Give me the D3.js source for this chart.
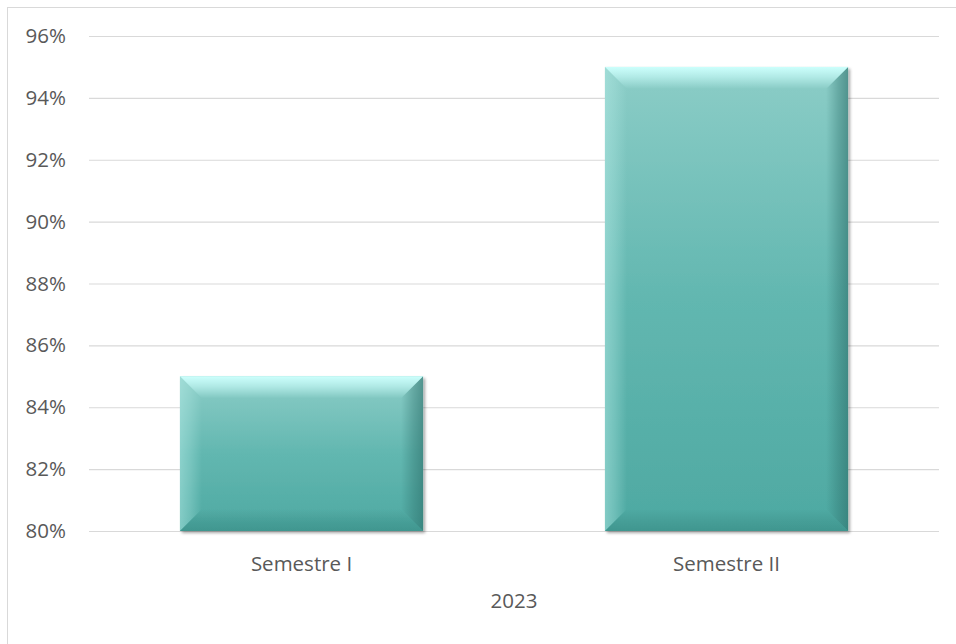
<!DOCTYPE html>
<html>
<head>
<meta charset="utf-8">
<script src="https://cdn.jsdelivr.net/npm/d3@7"></script>
<style>
  body { margin: 0; background: #fff; }
  text { font-family: 'Open Sans', 'Noto Sans', sans-serif; }
</style>
</head>
<body>
<div id="chart-area"></div>
<script>
// data
var categories = ['Semestre I', 'Semestre II']
var values = [0.85, 0.95]
var yTicks = [0.80, 0.82, 0.84, 0.86, 0.88, 0.90, 0.92, 0.94, 0.96]
var yearLabel = '2023'

var margin = {left: 89, right: 17, top: 36, bottom: 113}
var width = 956 - margin.left - margin.right
var height = 644 - margin.top - margin.bottom

var svg = d3.select('#chart-area')
  .append('svg')
  .attr('width', 956)
  .attr('height', 644)

// outer frame (only left and top edges fall inside the page)
svg.append('rect')
  .attr('x', 7.5)
  .attr('y', 7.5)
  .attr('width', 980)
  .attr('height', 680)
  .attr('fill', 'none')
  .attr('stroke', '#d9d9d9')
  .attr('stroke-width', 1)

var defs = svg.append('defs')

// bar body gradient
var body = defs.append('linearGradient')
  .attr('id', 'barBody')
  .attr('x1', 0).attr('y1', 0).attr('x2', 0).attr('y2', 1)
body.append('stop').attr('offset', '0%').attr('stop-color', '#8ccdc7')
body.append('stop').attr('offset', '50%').attr('stop-color', '#62b7b0')
body.append('stop').attr('offset', '100%').attr('stop-color', '#4ea9a2')

// bevel gradients, edge -> inner
function bevelGrad (id, x1, y1, x2, y2, color, op) {
  var gr = defs.append('linearGradient')
    .attr('id', id)
    .attr('x1', x1).attr('y1', y1).attr('x2', x2).attr('y2', y2)
  gr.append('stop').attr('offset', '0%').attr('stop-color', color).attr('stop-opacity', op)
  gr.append('stop').attr('offset', '45%').attr('stop-color', color).attr('stop-opacity', op * 0.6)
  gr.append('stop').attr('offset', '100%').attr('stop-color', color).attr('stop-opacity', 0)
}
bevelGrad('bevTop', 0, 0, 0, 1, '#ccfffc', 1)
bevelGrad('bevLeft', 0, 0, 1, 0, '#b5ece7', 0.5)
bevelGrad('bevRight', 1, 0, 0, 0, '#2c6f6a', 0.6)
bevelGrad('bevBottom', 0, 1, 0, 0, '#2f7f78', 0.45)

var shadow = defs.append('filter')
  .attr('id', 'barShadow')
  .attr('x', '-5%').attr('y', '-5%').attr('width', '115%').attr('height', '115%')
shadow.append('feDropShadow')
  .attr('dx', 2).attr('dy', 2)
  .attr('stdDeviation', 1.5)
  .attr('flood-color', '#000')
  .attr('flood-opacity', 0.35)

var g = svg.append('g')
  .attr('transform', 'translate(' + margin.left + ', ' + margin.top + ')')

// scales
var x = d3.scaleBand()
  .domain(categories)
  .range([0, width])
  .paddingInner(0.428)
  .paddingOuter(0.214)

var y = d3.scaleLinear()
  .domain([0.80, 0.96])
  .range([height, 0])

// y axis with gridlines
var yAxisCall = d3.axisLeft(y)
  .tickValues(yTicks)
  .tickSize(-width)
  .tickPadding(23)
  .tickFormat(d3.format('.0%'))

var yAxisGroup = g.append('g')
  .attr('class', 'y-axis')
  .call(yAxisCall)
yAxisGroup.select('.domain').remove()
yAxisGroup.selectAll('line')
  .attr('stroke', '#d9d9d9')
  .attr('stroke-width', 1.2)
yAxisGroup.selectAll('text')
  .attr('fill', '#595959')
  .attr('font-size', '20.5px')
  .attr('font-family', "'Open Sans', sans-serif")

// x axis
var xAxisGroup = g.append('g')
  .attr('class', 'x-axis')
  .attr('transform', 'translate(0, ' + height + ')')
  .call(d3.axisBottom(x).tickSize(0).tickPadding(25))
xAxisGroup.select('.domain').remove()
xAxisGroup.selectAll('text')
  .attr('fill', '#595959')
  .attr('font-size', '20.5px')
  .attr('font-family', "'Open Sans', sans-serif")

// year label under the categories
g.append('text')
  .attr('x', width / 2)
  .attr('y', height + 77)
  .attr('text-anchor', 'middle')
  .attr('fill', '#595959')
  .attr('font-size', '20.5px')
  .text(yearLabel)

// bars with bevel
var data = categories.map(function (c, i) { return {cat: c, value: values[i]} })
var bev = 22

var bars = g.selectAll('.bar')
  .data(data)
  .enter().append('g')
  .attr('class', 'bar')

bars.append('rect')
  .attr('x', function (d) { return x(d.cat) })
  .attr('y', function (d) { return y(d.value) })
  .attr('width', x.bandwidth())
  .attr('height', function (d) { return y(0.80) - y(d.value) })
  .attr('fill', 'url(#barBody)')
  .attr('filter', 'url(#barShadow)')

function pts (arr) { return arr.map(function (p) { return p.join(',') }).join(' ') }

bars.append('polygon')
  .attr('fill', 'url(#bevLeft)')
  .attr('points', function (d) {
    var x0 = x(d.cat), y0 = y(d.value), y1 = y(0.80)
    return pts([[x0, y0], [x0 + bev, y0 + bev], [x0 + bev, y1 - bev], [x0, y1]])
  })

bars.append('polygon')
  .attr('fill', 'url(#bevRight)')
  .attr('points', function (d) {
    var x1 = x(d.cat) + x.bandwidth(), y0 = y(d.value), y1 = y(0.80)
    return pts([[x1, y0], [x1 - bev, y0 + bev], [x1 - bev, y1 - bev], [x1, y1]])
  })

bars.append('polygon')
  .attr('fill', 'url(#bevBottom)')
  .attr('points', function (d) {
    var x0 = x(d.cat), x1 = x0 + x.bandwidth(), y1 = y(0.80)
    return pts([[x0, y1], [x0 + bev, y1 - bev], [x1 - bev, y1 - bev], [x1, y1]])
  })

bars.append('polygon')
  .attr('fill', 'url(#bevTop)')
  .attr('points', function (d) {
    var x0 = x(d.cat), x1 = x0 + x.bandwidth(), y0 = y(d.value)
    return pts([[x0, y0], [x0 + bev, y0 + bev], [x1 - bev, y0 + bev], [x1, y0]])
  })
</script>
</body>
</html>
